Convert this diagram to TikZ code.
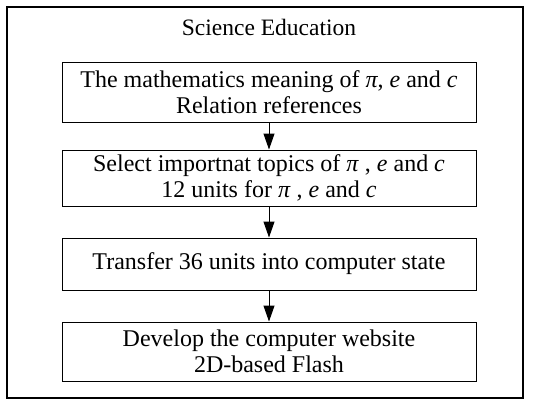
\documentclass[tikz,border=0pt]{standalone}
\usepackage{fontspec}
\setmainfont{Liberation Serif}
\usetikzlibrary{arrows.meta}
\begin{document}
\begin{tikzpicture}[x=1pt,y=-1pt,
  stepbox/.style={draw,line width=1pt,minimum width=414pt,align=center,
    font=\fontsize{24}{25.5}\selectfont,inner sep=0pt},
  flow/.style={line width=1pt,-{Triangle[width=11pt,length=16pt]}}]
\useasboundingbox (0,0) rectangle (542,408);
\draw[line width=1.5pt] (7,7) rectangle (523,398);
\node[font=\fontsize{23.5}{25}\selectfont] (title) at (269,27) {Science Education};
\node[stepbox,minimum height=60pt] (b1) at (269,92)
  {The mathematics meaning of \textit{π}, \textit{e} and \textit{c}\\Relation references};
\node[stepbox,minimum height=56pt] (b2) at (269,178)
  {Select importnat topics of \textit{π} , \textit{e} and \textit{c}\\12 units for \textit{π} , \textit{e} and \textit{c}};
\node[stepbox,minimum height=52pt] (b3) at (269,264)
  {Transfer 36 units into computer state};
\node[stepbox,minimum height=59pt] (b4) at (269,351.5)
  {Develop the computer website\\2D-based Flash};
\draw[flow] (b1) -- (b2);
\draw[flow] (b2) -- (b3);
\draw[flow] (b3) -- (b4);
\end{tikzpicture}
\end{document}
